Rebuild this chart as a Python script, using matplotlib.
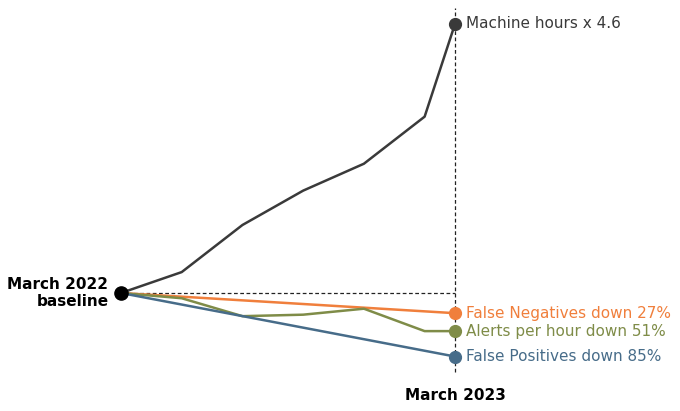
import numpy as np
import matplotlib
matplotlib.use("Agg")
import matplotlib.pyplot as plt

# time steps (March 2022 baseline -> March 2023), values relative to baseline = 1
steps = [0, 1, 2, 3, 4, 5, 5.5]
machine_hours = [1.0, 1.28, 1.91, 2.37, 2.73, 3.36, 4.6]
alerts_per_hour = [1.0, 0.93, 0.69, 0.71, 0.79, 0.49, 0.49]
fn_steps = [0, 5.5]
false_negatives = [1.0, 0.73]
fp_steps = [0, 5.5]
false_positives = [1.0, 0.15]

labels = ["Machine hours x 4.6", "False Negatives down 27%",
          "Alerts per hour down 51%", "False Positives down 85%"]
colors = ["#3a3a3a", "#f07f3c", "#7f8c48", "#476c89"]

fig = plt.figure(figsize=(6.8, 4.11), dpi=100)
ax = fig.add_axes([0, 0, 1, 1])
ax.set_xlim(-1.992, 9.205)
ax.set_ylim(-0.579, 4.921)
ax.axis("off")

# reference lines
ax.plot([steps[0], steps[-1]], [1, 1], ls=(0, (3, 2)), color="#222222", lw=0.9, zorder=1)
ax.plot([steps[-1], steps[-1]], [-0.06, 4.81], ls=(0, (3, 2)), color="#222222", lw=0.9, zorder=1)

series = [
    (steps, machine_hours),
    (fn_steps, false_negatives),
    (steps, alerts_per_hour),
    (fp_steps, false_positives),
]
for (xs, ys), lab, c in zip(series, labels, colors):
    ax.plot(xs, ys, color=c, lw=1.8, zorder=2)
    ax.plot(xs[-1], ys[-1], "o", color=c, ms=8.5, zorder=3)
    ax.annotate(lab, (xs[-1], ys[-1]), xytext=(8, 0), textcoords="offset points",
                color=c, fontsize=11, va="center", ha="left")

ax.plot(0, 1, "o", color="black", ms=9.5, zorder=4)
ax.annotate("March 2022\nbaseline", (0, 1), xytext=(-9, 0), textcoords="offset points",
            ha="right", va="center", fontsize=11, fontweight="bold", linespacing=1.2)
ax.annotate("March 2023", (steps[-1], -0.06), xytext=(0, -17), textcoords="offset points",
            ha="center", va="center", fontsize=11, fontweight="bold")

fig.savefig("out.png", dpi=100)
